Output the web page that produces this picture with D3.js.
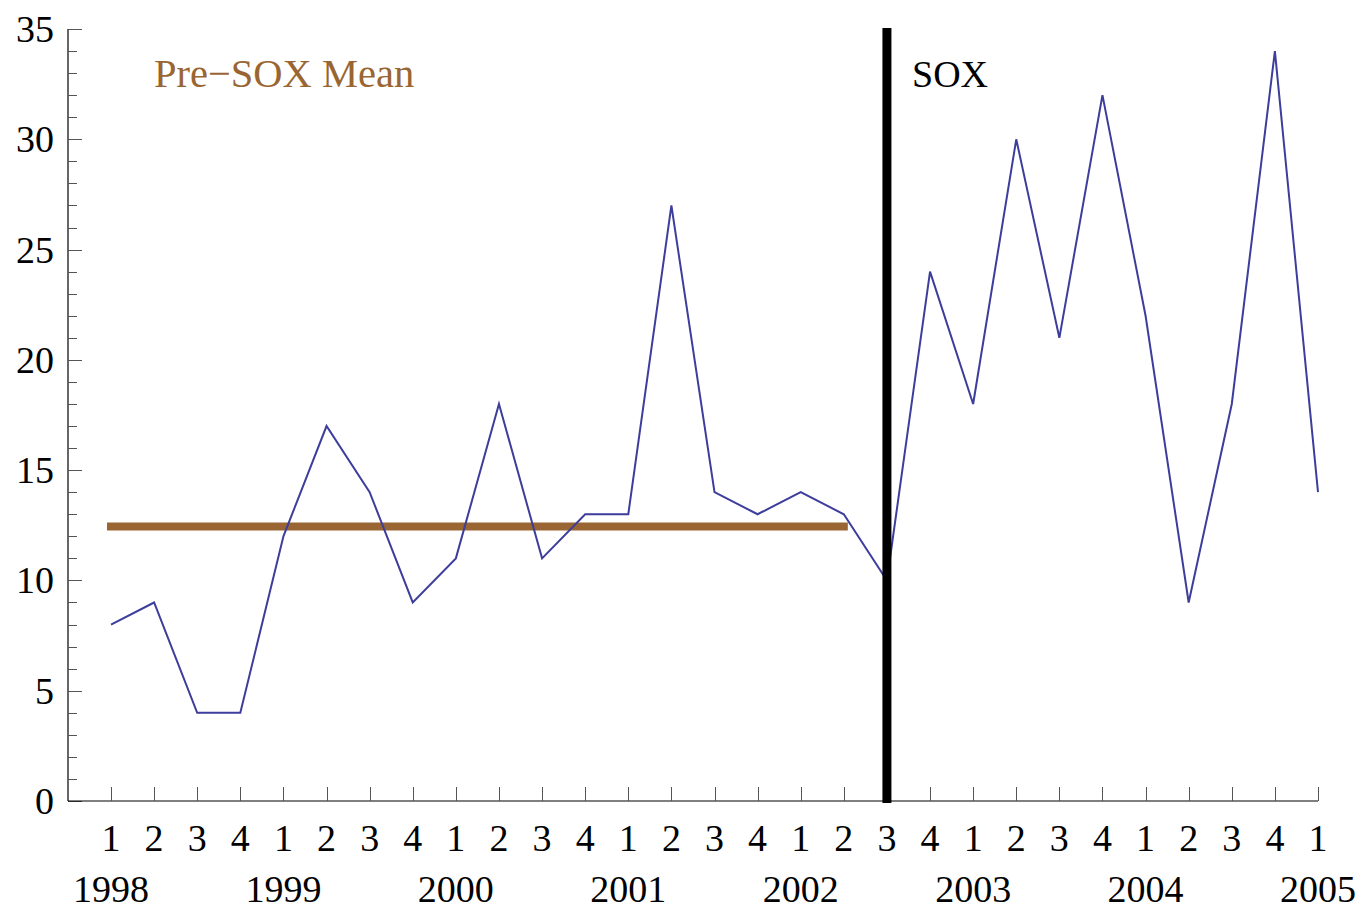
<!DOCTYPE html>
<html>
<head>
<meta charset="utf-8">
<script src="https://cdn.jsdelivr.net/npm/d3@7"></script>
<style>
  html, body { margin: 0; padding: 0; background: #fff; }
  svg { display: block; }
  text { font-family: "Liberation Serif", "Times New Roman", serif; }
</style>
</head>
<body>
<svg id="chart" width="1359" height="909"></svg>
<script>
// ---- data ----
const quarters = ["1","2","3","4","1","2","3","4","1","2","3","4","1","2","3","4","1","2","3","4","1","2","3","4","1","2","3","4","1"];
const years = ["1998","1999","2000","2001","2002","2003","2004","2005"];
const values = [8,9,4,4,12,17,14,9,11,18,11,13,13,27,14,13,14,13,10,24,18,30,21,32,22,9,18,34,14];
const preSoxMean = 12.44;
const preSoxEndIndex = 17;   // 2002 Q2
const soxIndex = 18;         // 2002 Q3
const yTicksMajor = [0,5,10,15,20,25,30,35];

// ---- layout ----
const svg = d3.select("#chart");
const x = d3.scaleLinear().domain([0, values.length - 1]).range([111, 1318]);
const y = d3.scaleLinear().domain([0, 35]).range([801, 29]);
const axisLeftX = 68;

// y axis
const yMinor = d3.range(0, 36, 1);
svg.append("line").attr("x1", axisLeftX).attr("x2", axisLeftX)
  .attr("y1", y(35)).attr("y2", y(0)).attr("stroke", "#000").attr("stroke-width", 1.2);
svg.selectAll(".ytick").data(yMinor).enter().append("line")
  .attr("x1", axisLeftX)
  .attr("x2", d => axisLeftX + (d % 5 === 0 ? 14 : 9))
  .attr("y1", d => Math.round(y(d)) + 0.5).attr("y2", d => Math.round(y(d)) + 0.5)
  .attr("stroke", "#555").attr("stroke-width", 1);
svg.selectAll(".ylab").data(yTicksMajor).enter().append("text")
  .attr("x", 54).attr("y", d => y(d) + 13)
  .attr("text-anchor", "end").attr("font-size", 38).attr("fill", "#000")
  .text(d => d);

// x axis
svg.append("line").attr("x1", axisLeftX).attr("x2", x(values.length - 1))
  .attr("y1", 801).attr("y2", 801).attr("stroke", "#000").attr("stroke-width", 1.2);
svg.selectAll(".xtick").data(quarters).enter().append("line")
  .attr("x1", (d, i) => Math.round(x(i)) + 0.5).attr("x2", (d, i) => Math.round(x(i)) + 0.5)
  .attr("y1", 801).attr("y2", 787)
  .attr("stroke", "#555").attr("stroke-width", 1);
svg.selectAll(".qlab").data(quarters).enter().append("text")
  .attr("x", (d, i) => x(i)).attr("y", 851)
  .attr("text-anchor", "middle").attr("font-size", 38).attr("fill", "#000")
  .text(d => d);
svg.selectAll(".ylabyear").data(years).enter().append("text")
  .attr("x", (d, i) => x(i * 4)).attr("y", 902)
  .attr("text-anchor", "middle").attr("font-size", 38).attr("fill", "#000")
  .text(d => d);

// pre-SOX mean line
svg.append("line")
  .attr("x1", x(0)).attr("x2", x(preSoxEndIndex))
  .attr("y1", y(preSoxMean)).attr("y2", y(preSoxMean))
  .attr("stroke", "#996633").attr("stroke-width", 8).attr("stroke-linecap", "square");

// data line
const line = d3.line().x((d, i) => x(i)).y(d => y(d));
svg.append("path").datum(values)
  .attr("d", line).attr("fill", "none")
  .attr("stroke", "#3d3d9c").attr("stroke-width", 2).attr("stroke-linejoin", "miter");

// SOX vertical line
svg.append("line")
  .attr("x1", x(soxIndex)).attr("x2", x(soxIndex))
  .attr("y1", 28).attr("y2", 803)
  .attr("stroke", "#000").attr("stroke-width", 9);

// labels
svg.append("text").attr("x", 154).attr("y", 87)
  .attr("font-size", 40.5).attr("fill", "#996633").text("Pre\u2212SOX Mean");
svg.append("text").attr("x", 912).attr("y", 87)
  .attr("font-size", 38).attr("fill", "#000").text("SOX");
</script>
</body>
</html>
